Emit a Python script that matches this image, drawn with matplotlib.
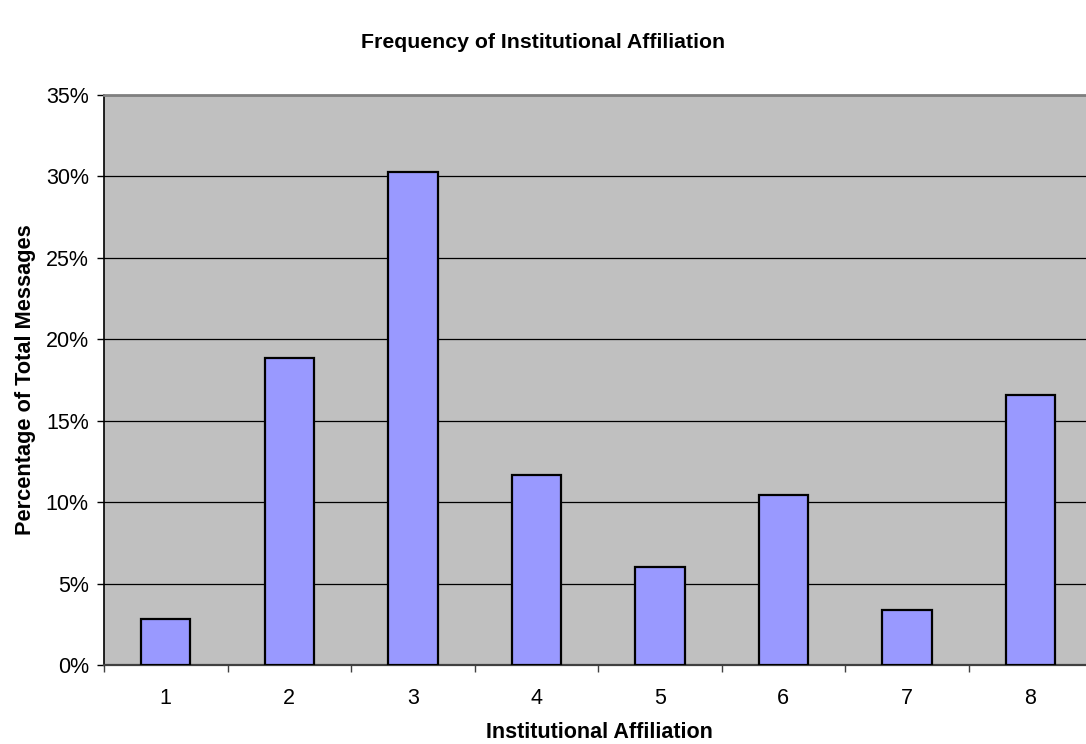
import matplotlib
matplotlib.use("Agg")
import matplotlib.pyplot as plt
import numpy as np
from matplotlib.ticker import FuncFormatter, FixedLocator

plt.rcParams["font.family"] = ["Liberation Sans", "DejaVu Sans"]

# share of messages per institutional affiliation code (%)
categories = ["1", "2", "3", "4", "5", "6", "7", "8"]
percentages = [2.82, 18.85, 30.3, 11.65, 6.0, 10.42, 3.36, 16.6]

fig = plt.figure(figsize=(10.86, 7.44), dpi=100)
# plot area runs slightly past the right edge of the canvas
ax = fig.add_axes([0.0958, 0.1062, 0.9098, 0.766])
ax.set_facecolor("#C0C0C0")

x = np.arange(len(categories))
ax.bar(x, percentages, width=0.4, color="#9999FF", edgecolor="black",
       linewidth=1.6, zorder=3)

ax.set_xlim(-0.5, len(categories) - 0.5)
ax.set_ylim(0, 35)
ax.set_yticks(np.arange(0, 36, 5))
ax.yaxis.set_major_formatter(FuncFormatter(lambda v, _: f"{v:.0f}%"))
ax.grid(axis="y", color="black", linewidth=0.9, zorder=1)

ax.set_xticks(x)
ax.set_xticklabels(categories)
ax.tick_params(axis="x", which="major", length=0, pad=16.5, labelsize=15.5)
ax.xaxis.set_minor_locator(FixedLocator(np.arange(-0.5, len(categories), 1.0)))
ax.tick_params(axis="x", which="minor", length=5, width=1, color="#404040")
ax.tick_params(axis="y", length=5, width=1, labelsize=15.5, pad=6)

ax.spines["right"].set_visible(False)
ax.spines["top"].set_color("#808080")
ax.spines["top"].set_linewidth(2)
ax.spines["bottom"].set_color("#404040")
ax.spines["bottom"].set_linewidth(1.6)
ax.spines["left"].set_color("black")
ax.spines["left"].set_linewidth(1.2)

fig.text(0.5, 1 - 43 / 744, "Frequency of Institutional Affiliation",
         ha="center", va="center", fontsize=15.3, fontweight="bold")
ax.set_xlabel("Institutional Affiliation", fontsize=15.5, fontweight="bold")
ax.xaxis.set_label_coords((599 - 104) / 988, -(733 - 665) / 570)
ax.xaxis.label.set_va("center")
ax.set_ylabel("Percentage of Total Messages", fontsize=15.7, fontweight="bold")
ax.yaxis.set_label_coords(-(104 - 25) / 988, 0.5)
ax.yaxis.label.set_va("center")

fig.savefig("out.png", dpi=100)
